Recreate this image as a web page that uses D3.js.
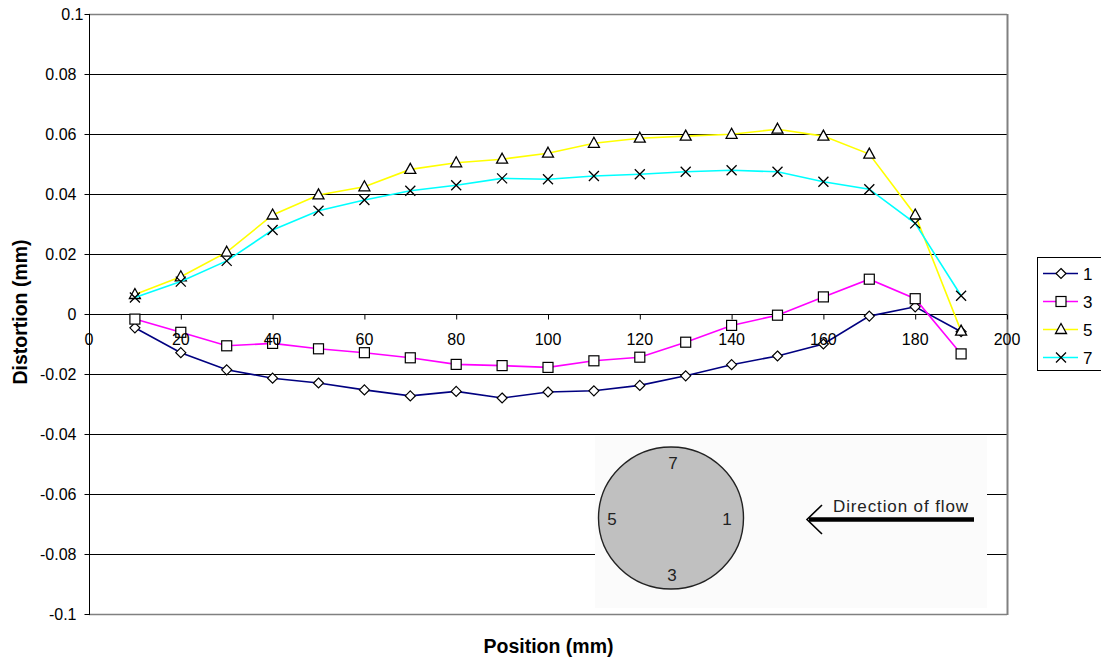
<!DOCTYPE html>
<html>
<head>
<meta charset="utf-8">
<script src="https://cdn.jsdelivr.net/npm/d3@7"></script>
<style>
  html, body { margin: 0; padding: 0; background: #fff; }
  svg { display: block; font-family: "Liberation Sans", Arial, sans-serif; }
</style>
</head>
<body>
<svg id="chart" width="1101" height="660"></svg>
<script>
// ---- data ----
const positions = [10,20,30,40,50,60,70,80,90,100,110,120,130,140,150,160,170,180,190];
const series1 = [-0.0046,-0.0129,-0.0186,-0.0214,-0.0230,-0.0253,-0.0273,-0.0258,-0.0280,-0.0260,-0.0256,-0.0238,-0.0206,-0.0169,-0.0140,-0.0100,-0.0007,0.0024,-0.0059];
const series3 = [-0.0017,-0.0061,-0.0106,-0.0098,-0.0116,-0.0129,-0.0146,-0.0168,-0.0172,-0.0178,-0.0156,-0.0144,-0.0094,-0.0038,-0.0004,0.0057,0.0116,0.0051,-0.0133];
const series5 = [0.0065,0.0124,0.0206,0.0330,0.0397,0.0424,0.0482,0.0504,0.0516,0.0536,0.0569,0.0586,0.0593,0.0599,0.0616,0.0593,0.0533,0.0330,-0.0057];
const series7 = [0.0055,0.0108,0.0177,0.0280,0.0344,0.0380,0.0411,0.0429,0.0452,0.0449,0.0460,0.0466,0.0474,0.0479,0.0474,0.0441,0.0416,0.0302,0.0061];
const seriesNames = ["1","3","5","7"];
const xTicks = [0,20,40,60,80,100,120,140,160,180,200];
const yTicks = [-0.1,-0.08,-0.06,-0.04,-0.02,0,0.02,0.04,0.06,0.08,0.1];
const yTickLabels = ["-0.1","-0.08","-0.06","-0.04","-0.02","0","0.02","0.04","0.06","0.08","0.1"];

const seriesList = [
  {name: seriesNames[0], values: series1, color: "#000080", marker: "diamond"},
  {name: seriesNames[1], values: series3, color: "#ff00ff", marker: "square"},
  {name: seriesNames[2], values: series5, color: "#ffff00", marker: "triangle"},
  {name: seriesNames[3], values: series7, color: "#00ffff", marker: "cross"}
];

const svg = d3.select("#chart");
const L = 89, R = 1007, T = 14, B = 614;
const x = d3.scaleLinear().domain([0,200]).range([L,R]);
const y = d3.scaleLinear().domain([-0.1,0.1]).range([B,T]);

// gridlines
svg.append("g").selectAll("line").data(yTicks.filter(v => v > -0.1 && v < 0.1 && v !== 0))
  .enter().append("line")
  .attr("x1", L).attr("x2", R)
  .attr("y1", d => Math.round(y(d)) + 0.5).attr("y2", d => Math.round(y(d)) + 0.5)
  .attr("stroke", "#000").attr("stroke-width", 1);

// plot border (gray) top, right, bottom
svg.append("line").attr("x1", L).attr("x2", R).attr("y1", T+0.5).attr("y2", T+0.5).attr("stroke", "#808080").attr("stroke-width", 1.5);
svg.append("line").attr("x1", L).attr("x2", R).attr("y1", B+0.5).attr("y2", B+0.5).attr("stroke", "#808080").attr("stroke-width", 1.5);
svg.append("line").attr("x1", R+0.5).attr("x2", R+0.5).attr("y1", T).attr("y2", B+1).attr("stroke", "#808080").attr("stroke-width", 2);

// inset picture (flow diagram)
const inset = svg.append("g");
inset.append("rect").attr("x", 595).attr("y", 436).attr("width", 392).attr("height", 172).attr("fill", "#fbfbfb");
inset.append("ellipse").attr("cx", 671).attr("cy", 518).attr("rx", 72.5).attr("ry", 71)
  .attr("fill", "#c0c0c0").attr("stroke", "#222").attr("stroke-width", 1.4);
const insetTxt = [["7",673,469],["5",612,525],["1",727,525],["3",672,581]];
inset.selectAll("text.pos").data(insetTxt).enter().append("text")
  .attr("x", d => d[1]).attr("y", d => d[2]).attr("text-anchor", "middle")
  .attr("font-size", 17).attr("fill", "#222").text(d => d[0]);
inset.append("line").attr("x1", 809).attr("x2", 974).attr("y1", 519.5).attr("y2", 519.5)
  .attr("stroke", "#000").attr("stroke-width", 4.5);
inset.append("path").attr("d", "M822,505 L807,519.5 L822,534")
  .attr("fill", "none").attr("stroke", "#000").attr("stroke-width", 1.6);
inset.append("text").attr("x", 833).attr("y", 512).attr("font-size", 17).attr("fill", "#222")
  .attr("textLength", 135).attr("lengthAdjust", "spacing")
  .text("Direction of flow");

// left axis
svg.append("line").attr("x1", L+0.5).attr("x2", L+0.5).attr("y1", T).attr("y2", B+1).attr("stroke", "#000").attr("stroke-width", 1);
const yAxis = d3.axisLeft(y).tickValues(yTicks).tickSize(5).tickFormat((d,i) => yTickLabels[i]);
const gy = svg.append("g").attr("transform", `translate(${L+0.5},0)`).call(yAxis);
gy.select(".domain").remove();
gy.selectAll("line").attr("stroke", "#000");
gy.selectAll("text").attr("font-size", 16).attr("font-family", "Liberation Sans, Arial, sans-serif")
  .attr("fill", "#000").attr("x", d => d === 0.1 ? -6 : -13).attr("dy", "0.35em");

// x axis at y = 0
const xAxis = d3.axisBottom(x).tickValues(xTicks).tickSize(5).tickFormat(d3.format("d"));
const gx = svg.append("g").attr("transform", `translate(0,${Math.round(y(0))+0.5})`).call(xAxis);
gx.select(".domain").attr("stroke", "#000").attr("d", `M${L},0H${R}`);
gx.selectAll("line").attr("stroke", "#000");
gx.selectAll("text").remove();

// series
const line = d3.line().x((d,i) => x(positions[i])).y(d => y(d));
function drawMarker(g, type, cx, cy) {
  if (type === "diamond") {
    g.append("path").attr("d", `M${cx},${cy-5} L${cx+5},${cy} L${cx},${cy+5} L${cx-5},${cy} Z`)
      .attr("fill", "#fff").attr("stroke", "#000").attr("stroke-width", 1.2);
  } else if (type === "square") {
    g.append("rect").attr("x", cx-5).attr("y", cy-5).attr("width", 10).attr("height", 10)
      .attr("fill", "#fff").attr("stroke", "#000").attr("stroke-width", 1.2);
  } else if (type === "triangle") {
    g.append("path").attr("d", `M${cx},${cy-6} L${cx+5.5},${cy+4} L${cx-5.5},${cy+4} Z`)
      .attr("fill", "#fff").attr("stroke", "#000").attr("stroke-width", 1.3);
  } else {
    g.append("path").attr("d", `M${cx-5},${cy-5} L${cx+5},${cy+5} M${cx-5},${cy+5} L${cx+5},${cy-5}`)
      .attr("fill", "none").attr("stroke", "#000").attr("stroke-width", 1.3);
  }
}
seriesList.forEach(s => {
  const g = svg.append("g");
  g.append("path").datum(s.values).attr("d", line).attr("fill", "none")
    .attr("stroke", s.color).attr("stroke-width", 1.6);
  s.values.forEach((v,i) => drawMarker(g, s.marker, x(positions[i]), y(v)));
});

// x tick labels (on top)
svg.append("g").selectAll("text").data(xTicks).enter().append("text")
  .attr("x", d => x(d)).attr("y", 345).attr("text-anchor", "middle")
  .attr("font-size", 16).attr("fill", "#000").text(d => d);

// axis titles
svg.append("text").attr("x", 548.5).attr("y", 653).attr("text-anchor", "middle")
  .attr("font-size", 19.5).attr("font-weight", "bold").text("Position (mm)");
svg.append("text").attr("transform", "translate(27,312) rotate(-90)").attr("text-anchor", "middle")
  .attr("font-size", 19.5).attr("font-weight", "bold").text("Distortion (mm)");

// legend
const lg = svg.append("g");
lg.append("rect").attr("x", 1037.5).attr("y", 257.5).attr("width", 70).attr("height", 113)
  .attr("fill", "#fff").attr("stroke", "#000").attr("stroke-width", 1);
seriesList.forEach((s,i) => {
  const cy = 273.5 + i*28;
  lg.append("line").attr("x1", 1043).attr("x2", 1078).attr("y1", cy).attr("y2", cy)
    .attr("stroke", s.color).attr("stroke-width", 1.6);
  drawMarker(lg, s.marker, 1061, cy);
  lg.append("text").attr("x", 1083).attr("y", cy + 6.5).attr("font-size", 17).text(s.name);
});
</script>
</body>
</html>
